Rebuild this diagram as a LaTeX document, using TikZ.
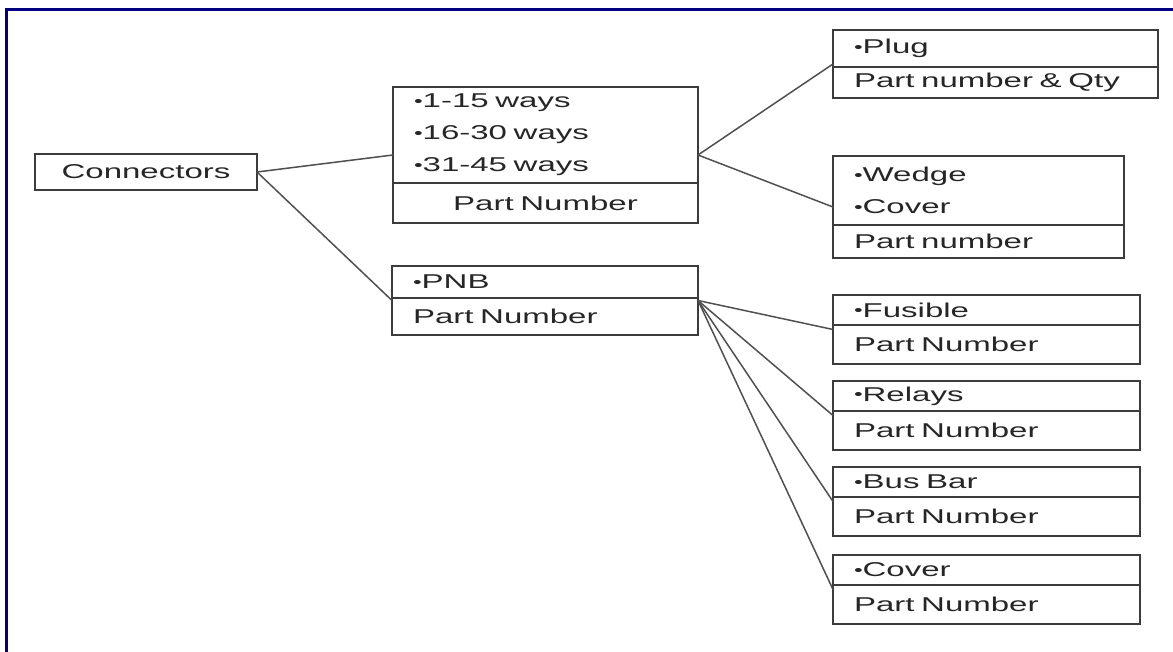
\documentclass[tikz,border=0pt]{standalone}
\usepackage{fontspec}
\setmainfont[FakeStretch=1.65]{Liberation Sans}
\usepackage{tikz}
\usetikzlibrary{positioning}
\usetikzlibrary{fit}
\definecolor{framenavy}{RGB}{0,0,128}
\definecolor{boxline}{RGB}{60,60,60}
\definecolor{linkgray}{RGB}{80,80,80}
\newcommand{\bul}{\raisebox{1.5pt}{\fontsize{15}{15}\selectfont •}}
\tikzset{cell/.style={draw=boxline, line width=1.8pt, anchor=north west, inner xsep=21pt, inner ysep=0pt, outer sep=0pt, align=left, text=black!85, font=\fontsize{20}{32}\selectfont}}
\tikzset{whole/.style={inner sep=0pt, outer sep=0pt}}
\tikzset{link/.style={draw=linkgray, line width=1.5pt}}

\begin{document}
\begin{tikzpicture}[x=1pt, y=-1pt]
\useasboundingbox (0,0) rectangle (1173,652);
\draw[framenavy, line width=3.5pt] (1173,9.5) -- (6.5,9.5) -- (6.5,652);

\node[cell, anchor=center, align=center, minimum width=222pt, minimum height=36pt] (conn) at (146,172) {Connectors};

\node[cell, text width=263pt, minimum height=96pt] (ways) at (393,87) {\bul1-15 ways\\\bul16-30 ways\\\bul31-45 ways};
\node[cell, text width=263pt, minimum height=40pt, align=center, below=0pt of ways] (ways-pn) {Part Number};
\node[whole, fit=(ways)(ways-pn)] (waysbox) {};

\node[cell, text width=264pt, minimum height=32pt] (pnb) at (392,266) {\bul PNB};
\node[cell, text width=264pt, minimum height=37pt, below=0pt of pnb] (pnb-pn) {Part Number};
\node[whole, fit=(pnb)(pnb-pn)] (pnbbox) {};

\node[cell, text width=283pt, minimum height=37pt] (plug) at (833,30) {\bul Plug};
\node[cell, text width=283pt, minimum height=31pt, below=0pt of plug] (plug-pn) {Part number \& Qty};
\node[whole, fit=(plug)(plug-pn)] (plugbox) {};

\node[cell, text width=249pt, minimum height=69pt] (wedge) at (833,156) {\bul Wedge\\\bul Cover};
\node[cell, text width=249pt, minimum height=33pt, below=0pt of wedge] (wedge-pn) {Part number};
\node[whole, fit=(wedge)(wedge-pn)] (wedgebox) {};

\draw[link] (conn.east) -- (waysbox.west);
\draw[link] (conn.east) -- (pnbbox.west);
\draw[link] (waysbox.east) -- (plugbox.west);
\draw[link] (waysbox.east) -- (wedgebox.west);

\foreach \nm/\item/\y in {fus/Fusible/295, rel/Relays/381, bus/Bus Bar/467, cov/Cover/555} {
  \node[cell, text width=265pt, minimum height=30pt] (\nm) at (833,\y) {\bul\item};
  \node[cell, text width=265pt, minimum height=39pt, below=0pt of \nm] (\nm-pn) {Part Number};
  \node[whole, fit=(\nm)(\nm-pn)] (\nm box) {};
  \draw[link] (pnbbox.east) -- (\nm box.west);
}
\end{tikzpicture}
\end{document}
